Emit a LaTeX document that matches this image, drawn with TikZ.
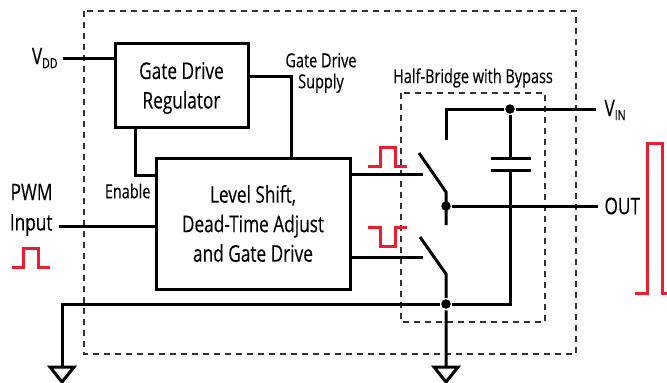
\documentclass[tikz,border=0pt]{standalone}
\usepackage{fontspec}
\setmainfont[FakeStretch=0.75,FakeBold=0.2]{Open Sans}
\usetikzlibrary{positioning}
\definecolor{pulsered}{RGB}{237,28,46}
\definecolor{boundary}{RGB}{50,50,50}
\tikzstyle{every path}=[line width=3pt]
\tikzstyle{block} = [draw, line width=3pt, inner sep=0pt, align=center, font=\fontsize{23}{29.5}\selectfont]
\tikzstyle{wire} = [line width=3pt, black]
\tikzstyle{boundarybox} = [line width=1.4pt, boundary, dash pattern=on 6pt off 5pt]
\tikzstyle{pulse} = [line width=3pt, pulsered]
\tikzstyle{dot} = [circle, fill=black, inner sep=0pt, minimum size=9.5pt]
\tikzstyle{caption} = [inner sep=0pt, font=\fontsize{23}{29}\selectfont]
\tikzstyle{small} = [inner sep=0pt, align=center, font=\fontsize{19.3}{21}\selectfont]
\begin{document}
\begin{tikzpicture}[x=1pt, y=-1pt]
            \useasboundingbox (0,0) rectangle (667,383);
            % dashed outlines
            \draw[boundarybox] (84,11) rectangle (576,354);
            \draw[boundarybox] (401,93) rectangle (545,322);
            % blocks
            \node[block, minimum width=133pt, minimum height=84pt] (regulator) at (181.5,85) {\rule{0pt}{23pt}Gate Drive\\Regulator};
            \node[block, minimum width=194pt, minimum height=131pt] (levelshift) at (253,223.5) {Level Shift,\\Dead-Time Adjust\\and Gate Drive};
            % labels
            \node[caption, anchor=east] (vdd) at (59,58) {V\raisebox{-4pt}{\fontsize{14}{14}\selectfont DD}};
            \node[caption, anchor=east] (pwm) at (54,192) {PWM};
            \node[caption, anchor=east] (input) at (54,225) {Input};
            \node[small, anchor=east] (enable) at (152,191) {Enable};
            \node[small] (supply) at (321,73) {Gate Drive\\Supply};
            \node[small] (halfbridge) at (473,78) {Half-Bridge with Bypass};
            \node[caption, anchor=west] (vin) at (603,110) {V\raisebox{-4pt}{\fontsize{14}{14}\selectfont IN}};
            \node[caption, anchor=west] (out) at (603,206) {OUT};
            % junctions
            \node[dot] (vinjoin) at (510,109) {};
            \node[dot] (outjoin) at (446,206) {};
            \node[dot] (gndjoin) at (446,304) {};
            % wire ends
            \coordinate (vddend) at (63,58);
            \coordinate (pwmend) at (59,226);
            \coordinate (gndleft) at (62,367);
            \coordinate (gndright) at (446,367);
            \coordinate (vinend) at (596,109);
            \coordinate (outend) at (598,206);
            \coordinate (hipole) at (446,140);
            \coordinate (hihinge) at (446,192);
            \coordinate (hitip) at (419,153);
            \coordinate (hiend) at (446,225);
            \coordinate (lohinge) at (446,274);
            \coordinate (lotip) at (420,237);
            \coordinate (hidrive) at (423,174);
            \coordinate (lodrive) at (423,257);
            \coordinate (plateup) at (510,158);
            \coordinate (platedown) at (510,170);
            \coordinate (supplycorner) at (291,76);
            \coordinate (enablecorner) at (135,175);
            \coordinate (gndcorner) at (510,304);
            % wires
            \draw[wire] (vddend) -- (vddend -| regulator.west);
            \draw[wire] (pwmend) -- (pwmend -| levelshift.west);
            \draw[wire] (supplycorner -| regulator.east) -- (supplycorner) -- (supplycorner |- levelshift.north);
            \draw[wire] (enablecorner |- regulator.south) -- (enablecorner) -- (enablecorner -| levelshift.west);
            \draw[wire] (hidrive) -- (hidrive -| levelshift.east);
            \draw[wire] (lodrive) -- (lodrive -| levelshift.east);
            \draw[wire] (hipole) -- (hipole |- vinjoin) -- (vinjoin) -- (vinend);
            \draw[wire] (outjoin) -- (outend);
            \draw[wire] (hitip) -- (hihinge) -- (hiend);
            \draw[wire] (lotip) -- (lohinge) -- (gndjoin) -- (gndright);
            \draw[wire] (vinjoin) -- (plateup);
            \draw[wire] (platedown) -- (gndcorner) -- (gndjoin);
            \draw[wire] (gndjoin) -- (62,304) -- (gndleft);
            % capacitor
            \draw[wire] (491,158) -- (531,158);
            \draw[wire] (491,170) -- (531,170);
            % ground symbols
            \draw[wire] (gndleft) ++(-12,0) -- ++(24,0) -- ++(-12,15) -- cycle;
            \draw[wire] (gndright) ++(-12,0) -- ++(24,0) -- ++(-12,15) -- cycle;
            % pulses
            \draw[pulse] (368,166) -- (380,166) -- (380,147) -- (395,147) -- (395,166) -- (407,166);
            \draw[pulse] (368,227) -- (380,227) -- (380,246) -- (395,246) -- (395,227) -- (407,227);
            \draw[pulse] (12,267) -- (23,267) -- (23,248) -- (38,248) -- (38,267) -- (50,267);
            \draw[pulse] (635,293) -- (647,293) -- (647,143) -- (662,143) -- (662,293) -- (670,293);
        \end{tikzpicture}
\end{document}
